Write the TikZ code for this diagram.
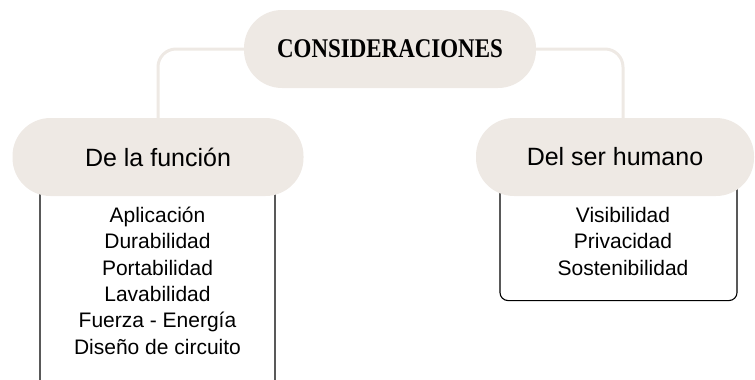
\documentclass[tikz,border=0pt]{standalone}
\usepackage{fontspec}
\setmainfont{Liberation Sans}
\newfontfamily\titlefont{Liberation Serif}
\usetikzlibrary{positioning,calc}
\definecolor{sand}{RGB}{238,233,228}
\pgfdeclarelayer{bg}
\pgfsetlayers{bg,main}

\begin{document}
\begin{tikzpicture}[x=1pt,y=-1pt]
        \tikzset{
            pill/.style={fill=sand, rounded corners=38pt, minimum height=78pt, inner sep=0pt, font=\fontsize{25}{30}\selectfont},
            link/.style={sand, line width=3pt, rounded corners=18pt},
            listbox/.style={draw=black, line width=1.1pt, rounded corners=8pt, inner sep=0pt},
            items/.style={align=center, inner sep=0pt, font=\fontsize{21}{26.3}\selectfont}
        }
        \useasboundingbox (0,0) rectangle (755,380);
        \node[pill, minimum width=292pt, font=\titlefont\bfseries\fontsize{27}{30}\selectfont] (cons) at (390,49) {\scalebox{0.85}[1]{CONSIDERACIONES}};
        \node[pill, minimum width=291pt] (func) at (158,157) {De la función};
        \node[pill, minimum width=278pt] (human) at (615,157) {Del ser humano};
        \node[items, anchor=north] (funclist) at (157.5,207) {Aplicación\\Durabilidad\\Portabilidad\\Lavabilidad\\Fuerza - Energía\\Diseño de circuito};
        \node[items, anchor=north] (humanlist) at (623,207) {Visibilidad\\Privacidad\\Sostenibilidad};
        \begin{pgfonlayer}{bg}
            \node[listbox, minimum width=235pt, minimum height=260pt, anchor=north] (funcbox) at (157.5,150) {};
            \node[listbox, minimum width=237pt, minimum height=150pt, anchor=north] (humanbox) at (618.5,150) {};
            \draw[link] (cons.west) -| (func.north);
            \draw[link] (cons.east) -| ([xshift=8pt]human.north);
        \end{pgfonlayer}
    \end{tikzpicture}
\end{document}
